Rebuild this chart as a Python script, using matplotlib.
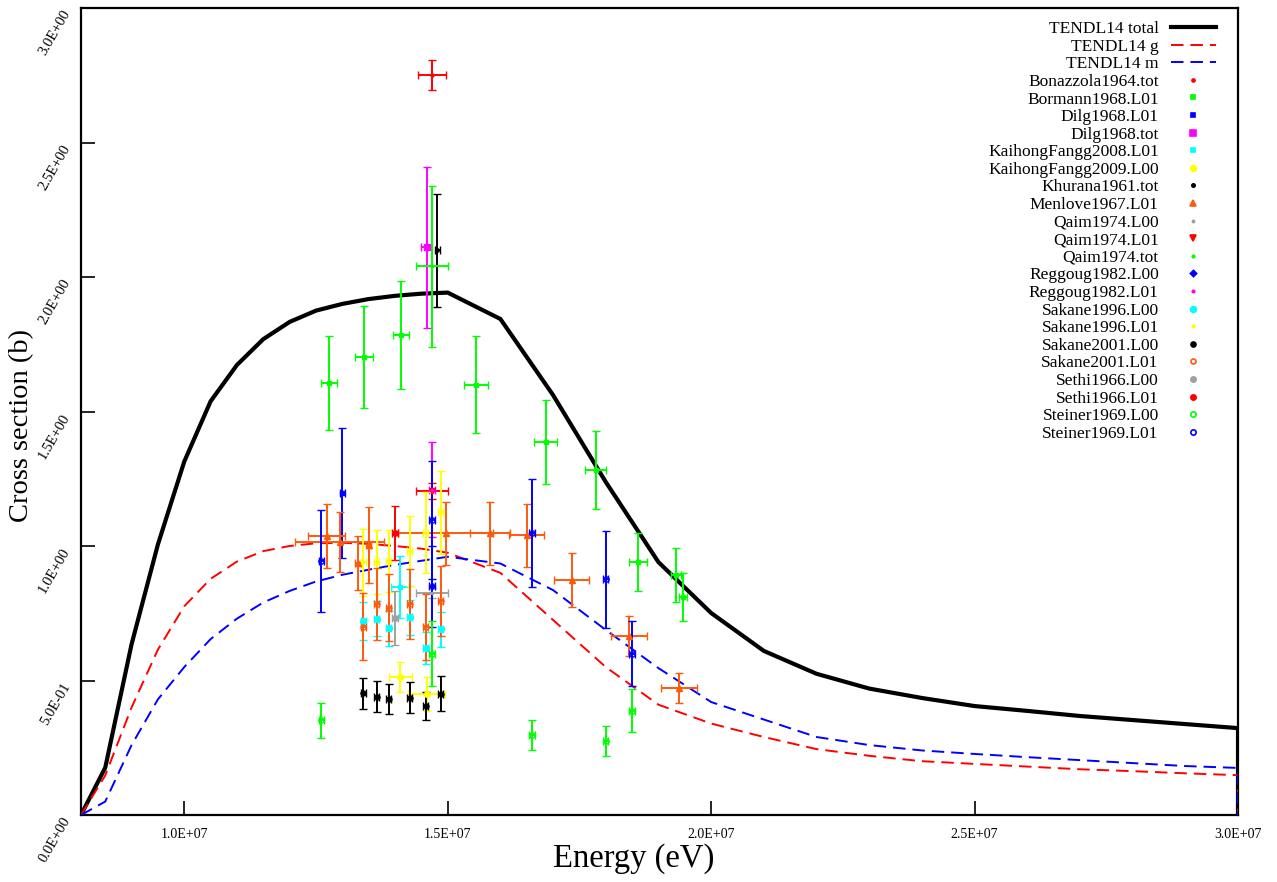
import matplotlib
matplotlib.use("Agg")
import matplotlib.pyplot as plt
from matplotlib.lines import Line2D
from matplotlib.ticker import FixedLocator, FuncFormatter
import numpy as np

plt.rcParams['font.family'] = ['Liberation Serif', 'DejaVu Serif']
plt.rcParams['lines.scale_dashes'] = False

MEV = 1e6

# ---- TENDL-2014 evaluation (energy in MeV, cross section in barn) ----
tendl_E = [8.04, 8.5, 9.0, 9.5, 10.0, 10.5, 11.0, 11.5, 12.0, 12.5, 13.0, 13.5, 14.0,
           14.5, 15.0, 16.0, 17.0, 18.0, 19.0, 20.0, 21.0, 22.0, 23.0, 24.0, 25.0,
           26.0, 27.0, 28.0, 29.0, 30.0, 30.0]
tendl_total = [0.0, 0.176, 0.635, 1.006, 1.314, 1.538, 1.673, 1.769, 1.833, 1.875, 1.900,
               1.918, 1.930, 1.938, 1.942, 1.844, 1.561, 1.238, 0.940, 0.751, 0.610,
               0.525, 0.470, 0.435, 0.405, 0.387, 0.368, 0.353, 0.338, 0.323, 0.0]
tendl_g = [0.0, 0.147, 0.400, 0.615, 0.776, 0.878, 0.942, 0.981, 1.000, 1.010, 1.012,
           1.008, 1.000, 0.990, 0.975, 0.900, 0.725, 0.550, 0.410, 0.340, 0.290,
           0.245, 0.220, 0.200, 0.190, 0.180, 0.170, 0.163, 0.155, 0.148, 0.0]
tendl_m = [0.0, 0.050, 0.260, 0.430, 0.550, 0.654, 0.730, 0.790, 0.833, 0.868, 0.893,
           0.912, 0.930, 0.945, 0.960, 0.935, 0.836, 0.688, 0.546, 0.420, 0.355,
           0.290, 0.260, 0.240, 0.227, 0.215, 0.204, 0.193, 0.182, 0.175, 0.0]

# ---- Measurements: energy (MeV), cross section (b) and their uncertainties ----
bonazzola_E = [14.7]
bonazzola_xs = [2.75]
bonazzola_dE = [0.27]
bonazzola_dxs = [0.055]

bormann_E = [12.74, 13.42, 14.11, 15.53, 16.86, 17.81, 18.61, 19.33, 19.47]
bormann_xs = [1.606, 1.703, 1.784, 1.599, 1.387, 1.283, 0.940, 0.892, 0.810]
bormann_dE = [0.15, 0.17, 0.15, 0.23, 0.22, 0.20, 0.17, 0.10, 0.08]
bormann_dxs = [0.175, 0.19, 0.20, 0.18, 0.156, 0.145, 0.108, 0.10, 0.09]

dilg_l01_E = [13.0]
dilg_l01_xs = [1.197]
dilg_l01_dE = [0.05]
dilg_l01_dxs = [0.24]

dilg_tot_E = [14.6]
dilg_tot_xs = [2.11]
dilg_tot_dE = [0.10]
dilg_tot_dxs = [0.30]

fang08_E = [14.1]
fang08_xs = [0.848]
fang08_dE = [0.17]
fang08_dxs = [0.115]

fang09_E = [14.1, 14.6]
fang09_xs = [0.513, 0.450]
fang09_dE = [0.22, 0.35]
fang09_dxs = [0.056, 0.063]

khurana_E = [14.8]
khurana_xs = [2.10]
khurana_dE = [0.05]
khurana_dxs = [0.21]

menlove_E = [12.7, 12.95, 13.3, 13.5, 14.96, 15.8, 16.5, 17.35, 18.44, 19.39]
menlove_xs = [1.037, 1.015, 0.937, 1.004, 1.048, 1.048, 1.040, 0.874, 0.666, 0.473]
menlove_dE = [0.36, 0.85, 0.05, 0.05, 0.90, 0.38, 0.33, 0.33, 0.34, 0.35]
menlove_dxs = [0.12, 0.11, 0.10, 0.14, 0.117, 0.117, 0.117, 0.10, 0.075, 0.055]

qaim_l00_E = [14.7]
qaim_l00_xs = [0.825]
qaim_l00_dE = [0.30]
qaim_l00_dxs = [0.02]

qaim_l01_E = [14.7]
qaim_l01_xs = [1.205]
qaim_l01_dE = [0.30]
qaim_l01_dxs = [0.03]

qaim_tot_E = [14.7]
qaim_tot_xs = [2.04]
qaim_tot_dE = [0.30]
qaim_tot_dxs = [0.30]

reggoug_l00_E = [14.7]
reggoug_l00_xs = [0.85]
reggoug_l00_dE = [0.05]
reggoug_l00_dxs = [0.15]

reggoug_l01_E = [14.7]
reggoug_l01_xs = [1.21]
reggoug_l01_dE = [0.05]
reggoug_l01_dxs = [0.177]

sakane_E = [13.40, 13.65, 13.88, 14.28, 14.58, 14.87]
sakane_dE = [0.05, 0.05, 0.05, 0.05, 0.05, 0.05]
sakane96_l00_xs = [0.720, 0.730, 0.695, 0.735, 0.620, 0.690]
sakane96_l00_dxs = [0.07, 0.065, 0.065, 0.065, 0.06, 0.065]
sakane96_l01_xs = [0.940, 0.940, 0.945, 0.980, 1.050, 1.125]
sakane96_l01_dxs = [0.125, 0.12, 0.115, 0.13, 0.15, 0.155]
sakane01_l00_xs = [0.453, 0.440, 0.430, 0.436, 0.405, 0.450]
sakane01_l00_dxs = [0.058, 0.058, 0.056, 0.058, 0.052, 0.065]
sakane01_l01_xs = [0.700, 0.785, 0.770, 0.785, 0.700, 0.795]
sakane01_l01_dxs = [0.125, 0.135, 0.125, 0.13, 0.123, 0.13]

sethi_E = [14.0]
sethi_dE = [0.05]
sethi_l00_xs = [0.732]
sethi_l00_dxs = [0.10]
sethi_l01_xs = [1.048]
sethi_l01_dxs = [0.10]

steiner_E = [12.6, 14.7, 16.6, 18.0, 18.5]
steiner_dE = [0.05, 0.05, 0.05, 0.05, 0.05]
steiner_l00_xs = [0.353, 0.600, 0.297, 0.275, 0.387]
steiner_l00_dxs = [0.065, 0.12, 0.055, 0.055, 0.08]
steiner_l01_xs = [0.944, 1.097, 1.048, 0.877, 0.600]
steiner_l01_dxs = [0.19, 0.22, 0.20, 0.18, 0.12]

x_ticks = [1.0e7, 1.5e7, 2.0e7, 2.5e7, 3.0e7]
y_ticks = [0.0, 0.5, 1.0, 1.5, 2.0, 2.5, 3.0]

ORANGE = '#ff5a0a'
GREEN = '#00ff00'
GRAY = '#a0a0a0'

# label, E, xs, dE, dxs, colour, marker, size, filled
datasets = [
    ('Bonazzola1964.tot', bonazzola_E, bonazzola_xs, bonazzola_dE, bonazzola_dxs, 'red', 'o', 2.2, True),
    ('Bormann1968.L01', bormann_E, bormann_xs, bormann_dE, bormann_dxs, GREEN, 's', 3.0, True),
    ('Dilg1968.L01', dilg_l01_E, dilg_l01_xs, dilg_l01_dE, dilg_l01_dxs, 'blue', 's', 3.0, True),
    ('Dilg1968.tot', dilg_tot_E, dilg_tot_xs, dilg_tot_dE, dilg_tot_dxs, 'magenta', 's', 4.0, True),
    ('KaihongFangg2008.L01', fang08_E, fang08_xs, fang08_dE, fang08_dxs, 'cyan', 's', 3.5, True),
    ('KaihongFangg2009.L00', fang09_E, fang09_xs, fang09_dE, fang09_dxs, 'yellow', 'o', 4.2, True),
    ('Khurana1961.tot', khurana_E, khurana_xs, khurana_dE, khurana_dxs, 'black', 'o', 2.4, True),
    ('Menlove1967.L01', menlove_E, menlove_xs, menlove_dE, menlove_dxs, ORANGE, '^', 4.0, True),
    ('Qaim1974.L00', qaim_l00_E, qaim_l00_xs, qaim_l00_dE, qaim_l00_dxs, GRAY, 'o', 1.6, True),
    ('Qaim1974.L01', qaim_l01_E, qaim_l01_xs, qaim_l01_dE, qaim_l01_dxs, 'red', 'v', 4.0, True),
    ('Qaim1974.tot', qaim_tot_E, qaim_tot_xs, qaim_tot_dE, qaim_tot_dxs, GREEN, 'o', 1.8, True),
    ('Reggoug1982.L00', reggoug_l00_E, reggoug_l00_xs, reggoug_l00_dE, reggoug_l00_dxs, 'blue', 'D', 3.2, True),
    ('Reggoug1982.L01', reggoug_l01_E, reggoug_l01_xs, reggoug_l01_dE, reggoug_l01_dxs, 'magenta', 'o', 1.8, True),
    ('Sakane1996.L00', sakane_E, sakane96_l00_xs, sakane_dE, sakane96_l00_dxs, 'cyan', 'o', 4.2, True),
    ('Sakane1996.L01', sakane_E, sakane96_l01_xs, sakane_dE, sakane96_l01_dxs, 'yellow', 'o', 1.8, True),
    ('Sakane2001.L00', sakane_E, sakane01_l00_xs, sakane_dE, sakane01_l00_dxs, 'black', 'o', 3.6, True),
    ('Sakane2001.L01', sakane_E, sakane01_l01_xs, sakane_dE, sakane01_l01_dxs, ORANGE, 'o', 3.6, False),
    ('Sethi1966.L00', sethi_E, sethi_l00_xs, sethi_dE, sethi_l00_dxs, GRAY, 'o', 3.8, True),
    ('Sethi1966.L01', sethi_E, sethi_l01_xs, sethi_dE, sethi_l01_dxs, 'red', 'o', 3.8, True),
    ('Steiner1969.L00', steiner_E, steiner_l00_xs, steiner_dE, steiner_l00_dxs, GREEN, 'o', 3.8, False),
    ('Steiner1969.L01', steiner_E, steiner_l01_xs, steiner_dE, steiner_l01_dxs, 'blue', 'o', 3.8, False),
]

W, H = 1277, 882
fig = plt.figure(figsize=(W / 100, H / 100), dpi=100)
ax = fig.add_axes([81 / W, (H - 815) / H, (1238 - 81) / W, (815 - 8) / H])

E = np.array(tendl_E) * MEV
h_tot, = ax.plot(E, tendl_total, color='black', lw=3.0, solid_joinstyle='miter', zorder=3)
h_g, = ax.plot(E, tendl_g, color='red', lw=1.4, dashes=(9, 5), zorder=3)
h_m, = ax.plot(E, tendl_m, color='blue', lw=1.4, dashes=(9, 5), zorder=3)

handles = [h_tot, h_g, h_m]
labels = ['TENDL14 total', 'TENDL14 g', 'TENDL14 m']

for name, e, xs, de, dxs, col, mk, ms, filled in datasets:
    ax.errorbar(np.array(e) * MEV, xs, xerr=np.array(de) * MEV, yerr=dxs,
                fmt=mk, color=col, ms=ms, mfc=col if filled else 'none', mec=col, mew=1.0,
                elinewidth=1.4, capsize=3.2, capthick=1.4, zorder=4)
    handles.append(Line2D([], [], ls='none', marker=mk, color=col, ms=ms,
                          mfc=col if filled else 'none', mec=col, mew=1.2))
    labels.append(name)

ax.set_xlim(8.04e6, 3.0e7)
ax.set_ylim(0, 3.0)

ax.xaxis.set_major_locator(FixedLocator(x_ticks))
ax.yaxis.set_major_locator(FixedLocator(y_ticks))
fmt = FuncFormatter(lambda v, p: f"{v:.1E}")
ax.xaxis.set_major_formatter(fmt)
ax.yaxis.set_major_formatter(fmt)
ax.tick_params(direction='in', length=10, width=1.2, top=False, right=False)
ax.tick_params(axis='x', pad=9, labelsize=10)
ax.tick_params(axis='y', pad=14, labelsize=10.5)
for lab in ax.get_yticklabels():
    lab.set_rotation(60)
    lab.set_rotation_mode('anchor')
    lab.set_ha('right')
    lab.set_va('top')

for sp in ax.spines.values():
    sp.set_linewidth(1.6)

ax.set_xlabel('Energy (eV)', fontsize=23.5)
ax.xaxis.label.set_va('center')
ax.xaxis.set_label_coords((634 - 81) / (1238 - 81), (815 - 859) / (815 - 8))

ax.set_ylabel('Cross section (b)', fontsize=20.5)
ax.yaxis.label.set_va('center')
ax.yaxis.set_label_coords((22 - 81) / (1238 - 81), (815 - 425) / (815 - 8))

ax.legend(handles, labels, loc='upper right', bbox_to_anchor=(1216 / W, 1 - 21 / H),
          bbox_transform=fig.transFigure, frameon=False, markerfirst=False,
          fontsize=12.5, handlelength=2.6, handletextpad=0.7, labelspacing=0.083,
          borderpad=0, borderaxespad=0)

fig.savefig('out.png', dpi=100)
